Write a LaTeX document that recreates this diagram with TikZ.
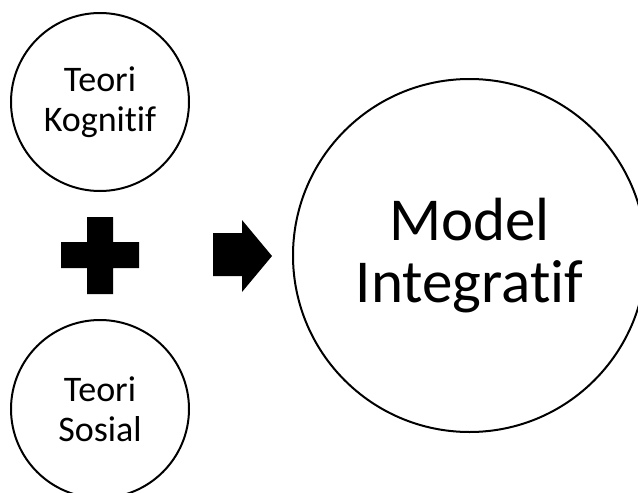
\documentclass[tikz,border=0pt]{standalone}
\usepackage{fontspec}
\setmainfont{Carlito}[Ligatures={NoCommon,NoContextual}]
\begin{document}
\begin{tikzpicture}[x=1pt,y=-1pt,
  bubble/.style={draw=black,line width=2pt,circle,inner sep=0pt,align=center,text=black},
  smalltext/.style={font={\fontsize{36}{40.5}\selectfont}},
  bigtext/.style={font={\fontsize{61}{62}\selectfont}},
  glyph/.style={fill=black}]
\useasboundingbox (0,0) rectangle (638,493);
\clip (0,0) rectangle (638,493);
\fill[white] (0,0) rectangle (638,493);
% circles
\node[bubble,smalltext,minimum size=178pt] (kog) at (100,102) {Teori\\Kognitif};
\node[bubble,smalltext,minimum size=178pt] (sos) at (100,409) {Teori\\Sosial};
\node[bubble,bigtext,minimum size=353pt] (mod) at (469.5,255.5) {Model\\Integratif};
% plus sign
\fill[glyph] (87,217) -- (113,217) -- (113,242) -- (139,242) -- (139,268) -- (113,268)
  -- (113,294) -- (87,294) -- (87,268) -- (61,268) -- (61,242) -- (87,242) -- cycle;
% block arrow
\fill[glyph] (213,233) -- (242,233) -- (242,220) -- (272,256) -- (242,292) -- (242,276)
  -- (213,276) -- cycle;
\end{tikzpicture}
\end{document}
